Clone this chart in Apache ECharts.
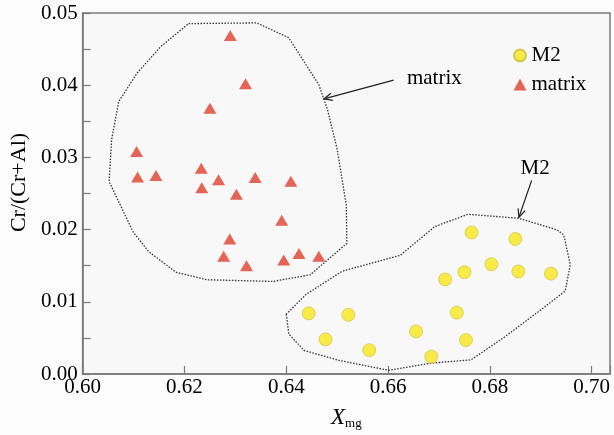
<!DOCTYPE html>
<html>
<head>
<meta charset="utf-8">
<script src="https://cdn.jsdelivr.net/npm/echarts@6/dist/echarts.min.js"></script>
<style>
  html, body { margin: 0; padding: 0; background: #fcfcfc; }
  #chart { width: 614px; height: 435px; }
</style>
</head>
<body>
<div id="chart"></div>
<script>
// Cr/(Cr+Al) versus X_mg for M2 grains and matrix grains
const m2X = [0.6764, 0.6850, 0.6803, 0.6750, 0.6712, 0.6856, 0.6920, 0.6444, 0.6522, 0.6735, 0.6477, 0.6563, 0.6655, 0.6753, 0.6685];
const m2Y = [0.0196, 0.0187, 0.0152, 0.0141, 0.0131, 0.0142, 0.0139, 0.0084, 0.0082, 0.0085, 0.0048, 0.0033, 0.0059, 0.0047, 0.0024];

const matrixX = [0.6290, 0.6320, 0.6250, 0.6106, 0.6108, 0.6144, 0.6233, 0.6234, 0.6267, 0.6302, 0.6339, 0.6409, 0.6391, 0.6289, 0.6277, 0.6322, 0.6395, 0.6425, 0.6464];
const matrixY = [0.0469, 0.0402, 0.0368, 0.0308, 0.0273, 0.0275, 0.0285, 0.0258, 0.0269, 0.0249, 0.0272, 0.0267, 0.0213, 0.0187, 0.0163, 0.0150, 0.0158, 0.0167, 0.0163];

// Outlines drawn round each group
const matrixHullX = [0.6208, 0.6342, 0.6405, 0.6464, 0.6481, 0.6500, 0.6518, 0.6519, 0.6447, 0.6374, 0.6244, 0.6183, 0.6130, 0.6099, 0.6052, 0.6057, 0.6071, 0.6107, 0.6153, 0.6208];
const matrixHullY = [0.04853, 0.04863, 0.04657, 0.04006, 0.03663, 0.03114, 0.02335, 0.01809, 0.01374, 0.01282, 0.01305, 0.01410, 0.01694, 0.01969, 0.02665, 0.03251, 0.03777, 0.04167, 0.04533, 0.04853];
const m2HullX = [0.6400, 0.6405, 0.6435, 0.6504, 0.6601, 0.6685, 0.6763, 0.6828, 0.6906, 0.6948, 0.6958, 0.6945, 0.6932, 0.6857, 0.6757, 0.6692, 0.6624, 0.6510, 0.6439, 0.6400];
const m2HullY = [0.00828, 0.00554, 0.00326, 0.00188, 0.00051, 0.00151, 0.00196, 0.00508, 0.00920, 0.01150, 0.01515, 0.01927, 0.01996, 0.02157, 0.02212, 0.02043, 0.01644, 0.01424, 0.01103, 0.00828];

// Callout labels and arrows (data coordinates)
const calloutText = ['matrix', 'M2'];
const calloutTextAt = [[0.6637, 0.0409], [0.6889, 0.0284]];
const calloutAlign = ['left', 'center'];
const arrowFrom = [[0.6611, 0.0407], [0.6882, 0.0268]];
const arrowTo = [[0.6474, 0.0381], [0.6857, 0.0217]];

const xTicks = [0.60, 0.62, 0.64, 0.66, 0.68, 0.70];
const yTicks = [0.00, 0.01, 0.02, 0.03, 0.04, 0.05];

const zip = (xs, ys) => xs.map((x, i) => [x, ys[i]]);
const FONT = "'Liberation Serif', 'Times New Roman', serif";
const AXIS = '#7a7a7a';

function onTick(v, list) {
  return list.some(t => Math.abs(v - t) < 1e-7);
}

const chart = echarts.init(document.getElementById('chart'), null, { renderer: 'canvas' });

chart.setOption({
  animation: false,
  backgroundColor: '#fcfcfc',
  grid: {
    left: 78, right: 4, top: 13, bottom: 58,
    show: true, backgroundColor: '#f8f8f8', borderColor: AXIS, borderWidth: 1.5
  },
  legend: {
    orient: 'vertical',
    left: 508, top: 40,
    itemWidth: 13, itemHeight: 12, itemGap: 8, 
    textStyle: { fontFamily: FONT, fontSize: 21, color: '#000' },
    data: [{ name: 'M2', icon: 'circle' }, { name: 'matrix', icon: 'triangle' }]
  },
  xAxis: {
    type: 'value',
    min: 0.60, max: 0.7036, interval: 0.02,
    splitLine: { show: false },
    axisLine: { show: true, onZero: false, lineStyle: { color: AXIS, width: 1.5 } },
    axisTick: { show: true, inside: true, length: 8, lineStyle: { color: AXIS, width: 1.2 } },
    axisLabel: {
      margin: 3, fontFamily: FONT, fontSize: 21, color: '#000',
      formatter: v => onTick(v, xTicks) ? v.toFixed(2) : ''
    },
    name: '{x|X}{s|mg}',
    nameLocation: 'middle',
    nameGap: 32,
    nameTextStyle: {
      fontFamily: FONT,
      rich: {
        x: { fontFamily: FONT, fontSize: 23, fontStyle: 'italic', color: '#000', lineHeight: 24, verticalAlign: 'top' },
        s: { fontFamily: FONT, fontSize: 13, color: '#000', lineHeight: 24, verticalAlign: 'bottom', padding: [14, 0, 0, 0] }
      }
    }
  },
  yAxis: {
    type: 'value',
    min: 0, max: 0.05, interval: 0.005,
    splitLine: { show: false },
    axisLine: { show: true, onZero: false, lineStyle: { color: AXIS, width: 1.5 } },
    axisTick: { show: true, inside: true, length: 8, lineStyle: { color: AXIS, width: 1.2 } },
    axisLabel: {
      margin: 5, fontFamily: FONT, fontSize: 21, color: '#000',
      formatter: v => onTick(v, yTicks) ? v.toFixed(2) : ''
    },
    name: 'Cr/(Cr+Al)',
    nameLocation: 'middle',
    nameGap: 51,
    nameTextStyle: { fontFamily: FONT, fontSize: 22, color: '#000', padding: [0, 0, 0, 22] }
  },
  series: [
    {
      name: 'matrix outline', type: 'line', silent: true, z: 1,
      data: zip(matrixHullX, matrixHullY), showSymbol: false, symbol: 'none',
      lineStyle: { color: '#333', width: 1.3, type: [1.5, 1.5] }
    },
    {
      name: 'M2 outline', type: 'line', silent: true, z: 1,
      data: zip(m2HullX, m2HullY), showSymbol: false, symbol: 'none',
      lineStyle: { color: '#333', width: 1.3, type: [1.5, 1.5] }
    },
    {
      name: 'M2', type: 'scatter', z: 3,
      symbol: 'circle', symbolSize: 13,
      itemStyle: { color: '#f8e71c', borderColor: '#cbbd3a', borderWidth: 0.8 },
      data: zip(m2X, m2Y)
    },
    {
      name: 'matrix', type: 'scatter', z: 3,
      symbol: 'triangle', symbolSize: [13, 11],
      itemStyle: { color: '#de3f2c' },
      data: zip(matrixX, matrixY)
    }
  ]
});

// Callout text and open-headed arrows, placed through the axes' scales
function drawCallouts() {
  const els = [];
  calloutText.forEach((t, i) => {
    const p = chart.convertToPixel({ gridIndex: 0 }, calloutTextAt[i]);
    els.push({
      type: 'text', x: p[0], y: p[1], z: 10,
      style: { text: t, font: '21px ' + FONT, fill: '#000', align: calloutAlign[i], verticalAlign: 'middle' }
    });
    const a = chart.convertToPixel({ gridIndex: 0 }, arrowFrom[i]);
    const b = chart.convertToPixel({ gridIndex: 0 }, arrowTo[i]);
    els.push({
      type: 'line', z: 10,
      shape: { x1: a[0], y1: a[1], x2: b[0], y2: b[1] },
      style: { stroke: '#222', lineWidth: 1.2 }
    });
    const ang = Math.atan2(a[1] - b[1], a[0] - b[0]);
    const len = 9, spread = 0.42;
    els.push({
      type: 'polyline', z: 10,
      shape: { points: [
        [b[0] + len * Math.cos(ang + spread), b[1] + len * Math.sin(ang + spread)],
        [b[0], b[1]],
        [b[0] + len * Math.cos(ang - spread), b[1] + len * Math.sin(ang - spread)]
      ] },
      style: { stroke: '#222', lineWidth: 1.2, fill: 'none' }
    });
  });
  chart.setOption({ graphic: { elements: els } });
}
drawCallouts();
</script>
</body>
</html>
